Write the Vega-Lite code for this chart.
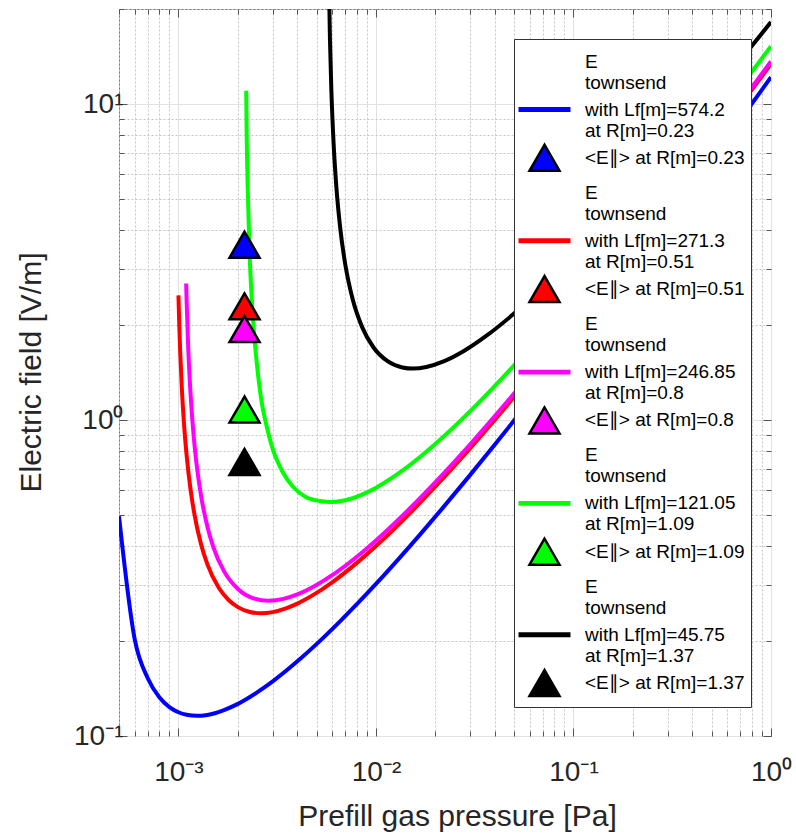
{
  "$schema": "https://vega.github.io/schema/vega-lite/v6.json",
  "width": 652,
  "height": 727,
  "autosize": {"type": "none"},
  "padding": {"left": 119, "top": 9, "right": 25, "bottom": 99},
  "background": "white",
  "config": {
    "font": "Liberation Sans",
    "view": {"stroke": "#7a7a7a", "strokeWidth": 1},
    "axis": {"labelColor": "#262626", "titleColor": "#262626", "tickColor": "#555555", "domain": false, "labelOverlap": false, "labelBound": false, "labelFlush": false, "titleFontWeight": "normal"}
  },
  "datasets": {
    "curves": [
      {"s": "L1", "p": 0.0005, "E": 0.496},
      {"s": "L1", "p": 0.0006, "E": 0.203},
      {"s": "L1", "p": 0.0007, "E": 0.152},
      {"s": "L1", "p": 0.0008, "E": 0.1327},
      {"s": "L1", "p": 0.0009, "E": 0.1235},
      {"s": "L1", "p": 0.001, "E": 0.1189},
      {"s": "L1", "p": 0.0011, "E": 0.1167},
      {"s": "L1", "p": 0.00124, "E": 0.1158},
      {"s": "L1", "p": 0.0014, "E": 0.1166},
      {"s": "L1", "p": 0.0017, "E": 0.1208},
      {"s": "L1", "p": 0.002, "E": 0.1264},
      {"s": "L1", "p": 0.0025, "E": 0.1374},
      {"s": "L1", "p": 0.003, "E": 0.1489},
      {"s": "L1", "p": 0.004, "E": 0.1723},
      {"s": "L1", "p": 0.005, "E": 0.1953},
      {"s": "L1", "p": 0.0065, "E": 0.2289},
      {"s": "L1", "p": 0.008, "E": 0.2613},
      {"s": "L1", "p": 0.01, "E": 0.303},
      {"s": "L1", "p": 0.013, "E": 0.3631},
      {"s": "L1", "p": 0.017, "E": 0.4396},
      {"s": "L1", "p": 0.022, "E": 0.5311},
      {"s": "L1", "p": 0.03, "E": 0.6706},
      {"s": "L1", "p": 0.04, "E": 0.8366},
      {"s": "L1", "p": 0.05, "E": 0.996},
      {"s": "L1", "p": 0.07, "E": 1.301},
      {"s": "L1", "p": 0.1, "E": 1.736},
      {"s": "L1", "p": 0.15, "E": 2.422},
      {"s": "L1", "p": 0.2, "E": 3.077},
      {"s": "L1", "p": 0.3, "E": 4.327},
      {"s": "L1", "p": 0.5, "E": 6.69},
      {"s": "L1", "p": 0.7, "E": 8.93},
      {"s": "L1", "p": 1.0, "E": 12.17},
      {"s": "L2", "p": 0.001, "E": 2.48},
      {"s": "L2", "p": 0.00101, "E": 1.981},
      {"s": "L2", "p": 0.00102, "E": 1.657},
      {"s": "L2", "p": 0.00104, "E": 1.263},
      {"s": "L2", "p": 0.00107, "E": 0.949},
      {"s": "L2", "p": 0.0011, "E": 0.773},
      {"s": "L2", "p": 0.00115, "E": 0.606},
      {"s": "L2", "p": 0.0012, "E": 0.51},
      {"s": "L2", "p": 0.0013, "E": 0.405},
      {"s": "L2", "p": 0.0014, "E": 0.35},
      {"s": "L2", "p": 0.0016, "E": 0.2945},
      {"s": "L2", "p": 0.0018, "E": 0.269},
      {"s": "L2", "p": 0.002, "E": 0.2558},
      {"s": "L2", "p": 0.0023, "E": 0.2469},
      {"s": "L2", "p": 0.00262, "E": 0.2446},
      {"s": "L2", "p": 0.003, "E": 0.2467},
      {"s": "L2", "p": 0.0035, "E": 0.2535},
      {"s": "L2", "p": 0.004, "E": 0.2625},
      {"s": "L2", "p": 0.005, "E": 0.2837},
      {"s": "L2", "p": 0.006, "E": 0.3065},
      {"s": "L2", "p": 0.008, "E": 0.3532},
      {"s": "L2", "p": 0.01, "E": 0.3993},
      {"s": "L2", "p": 0.015, "E": 0.5106},
      {"s": "L2", "p": 0.02, "E": 0.6162},
      {"s": "L2", "p": 0.03, "E": 0.8153},
      {"s": "L2", "p": 0.05, "E": 1.183},
      {"s": "L2", "p": 0.07, "E": 1.526},
      {"s": "L2", "p": 0.1, "E": 2.013},
      {"s": "L2", "p": 0.15, "E": 2.777},
      {"s": "L2", "p": 0.2, "E": 3.503},
      {"s": "L2", "p": 0.3, "E": 4.883},
      {"s": "L2", "p": 0.5, "E": 7.474},
      {"s": "L2", "p": 0.7, "E": 9.929},
      {"s": "L2", "p": 1.0, "E": 13.4},
      {"s": "L3", "p": 0.001094, "E": 2.704},
      {"s": "L3", "p": 0.0011, "E": 2.375},
      {"s": "L3", "p": 0.00112, "E": 1.708},
      {"s": "L3", "p": 0.00115, "E": 1.226},
      {"s": "L3", "p": 0.0012, "E": 0.861},
      {"s": "L3", "p": 0.00125, "E": 0.683},
      {"s": "L3", "p": 0.0013, "E": 0.578},
      {"s": "L3", "p": 0.0014, "E": 0.461},
      {"s": "L3", "p": 0.0015, "E": 0.397},
      {"s": "L3", "p": 0.0017, "E": 0.3325},
      {"s": "L3", "p": 0.002, "E": 0.292},
      {"s": "L3", "p": 0.0024, "E": 0.2728},
      {"s": "L3", "p": 0.00286, "E": 0.268},
      {"s": "L3", "p": 0.0034, "E": 0.2716},
      {"s": "L3", "p": 0.004, "E": 0.2806},
      {"s": "L3", "p": 0.005, "E": 0.3005},
      {"s": "L3", "p": 0.006, "E": 0.3228},
      {"s": "L3", "p": 0.008, "E": 0.3693},
      {"s": "L3", "p": 0.01, "E": 0.4159},
      {"s": "L3", "p": 0.015, "E": 0.5286},
      {"s": "L3", "p": 0.02, "E": 0.636},
      {"s": "L3", "p": 0.03, "E": 0.8385},
      {"s": "L3", "p": 0.05, "E": 1.2126},
      {"s": "L3", "p": 0.07, "E": 1.5614},
      {"s": "L3", "p": 0.1, "E": 2.056},
      {"s": "L3", "p": 0.15, "E": 2.832},
      {"s": "L3", "p": 0.2, "E": 3.569},
      {"s": "L3", "p": 0.3, "E": 4.969},
      {"s": "L3", "p": 0.5, "E": 7.595},
      {"s": "L3", "p": 0.7, "E": 10.08},
      {"s": "L3", "p": 1.0, "E": 13.65},
      {"s": "L4", "p": 0.002203, "E": 11.03},
      {"s": "L4", "p": 0.002215, "E": 8.0},
      {"s": "L4", "p": 0.002245, "E": 5.25},
      {"s": "L4", "p": 0.00229, "E": 3.4},
      {"s": "L4", "p": 0.002335, "E": 2.6},
      {"s": "L4", "p": 0.00242, "E": 1.85},
      {"s": "L4", "p": 0.00252, "E": 1.42},
      {"s": "L4", "p": 0.00265, "E": 1.12},
      {"s": "L4", "p": 0.00278, "E": 0.97},
      {"s": "L4", "p": 0.003, "E": 0.81},
      {"s": "L4", "p": 0.00337, "E": 0.685},
      {"s": "L4", "p": 0.0038, "E": 0.615},
      {"s": "L4", "p": 0.00443, "E": 0.57},
      {"s": "L4", "p": 0.0052, "E": 0.5545},
      {"s": "L4", "p": 0.0059, "E": 0.55},
      {"s": "L4", "p": 0.007, "E": 0.5575},
      {"s": "L4", "p": 0.0085, "E": 0.581},
      {"s": "L4", "p": 0.01, "E": 0.611},
      {"s": "L4", "p": 0.013, "E": 0.678},
      {"s": "L4", "p": 0.017, "E": 0.771},
      {"s": "L4", "p": 0.022, "E": 0.887},
      {"s": "L4", "p": 0.03, "E": 1.067},
      {"s": "L4", "p": 0.04, "E": 1.283},
      {"s": "L4", "p": 0.05, "E": 1.4895},
      {"s": "L4", "p": 0.07, "E": 1.884},
      {"s": "L4", "p": 0.1, "E": 2.441},
      {"s": "L4", "p": 0.15, "E": 3.311},
      {"s": "L4", "p": 0.2, "E": 4.134},
      {"s": "L4", "p": 0.3, "E": 5.691},
      {"s": "L4", "p": 0.5, "E": 8.595},
      {"s": "L4", "p": 0.7, "E": 11.33},
      {"s": "L4", "p": 1.0, "E": 15.25},
      {"s": "L5", "p": 0.00578, "E": 24.0},
      {"s": "L5", "p": 0.00585, "E": 15.93},
      {"s": "L5", "p": 0.00595, "E": 10.9},
      {"s": "L5", "p": 0.0061, "E": 7.54},
      {"s": "L5", "p": 0.0063, "E": 5.48},
      {"s": "L5", "p": 0.0066, "E": 4.024},
      {"s": "L5", "p": 0.007, "E": 3.096},
      {"s": "L5", "p": 0.0076, "E": 2.429},
      {"s": "L5", "p": 0.0085, "E": 1.972},
      {"s": "L5", "p": 0.0097, "E": 1.7},
      {"s": "L5", "p": 0.0115, "E": 1.533},
      {"s": "L5", "p": 0.0136, "E": 1.467},
      {"s": "L5", "p": 0.0154, "E": 1.455},
      {"s": "L5", "p": 0.018, "E": 1.472},
      {"s": "L5", "p": 0.022, "E": 1.533},
      {"s": "L5", "p": 0.028, "E": 1.657},
      {"s": "L5", "p": 0.036, "E": 1.842},
      {"s": "L5", "p": 0.05, "E": 2.173},
      {"s": "L5", "p": 0.07, "E": 2.635},
      {"s": "L5", "p": 0.1, "E": 3.297},
      {"s": "L5", "p": 0.15, "E": 4.334},
      {"s": "L5", "p": 0.2, "E": 5.313},
      {"s": "L5", "p": 0.3, "E": 7.156},
      {"s": "L5", "p": 0.5, "E": 10.567},
      {"s": "L5", "p": 0.7, "E": 13.76},
      {"s": "L5", "p": 1.0, "E": 18.2}
    ],
    "tri": [
      {"s": "T1", "p": 0.00216, "E": 3.59},
      {"s": "T2", "p": 0.00216, "E": 2.29},
      {"s": "T3", "p": 0.00216, "E": 1.94},
      {"s": "T4", "p": 0.00216, "E": 1.08},
      {"s": "T5", "p": 0.00216, "E": 0.737}
    ]
  },
  "layer": [
    {
      "data": {"name": "curves"},
      "mark": {"type": "line", "strokeWidth": 4, "clip": true, "interpolate": "monotone"},
      "encoding": {
        "x": {
          "field": "p", "type": "quantitative",
          "scale": {"type": "log", "domain": [0.0005, 1]},
          "axis": {
            "orient": "bottom",
            "values": [0.0005, 0.0006, 0.0007, 0.0008, 0.0009, 0.001, 0.002, 0.003, 0.004, 0.005, 0.006, 0.007, 0.008, 0.009, 0.01, 0.02, 0.03, 0.04, 0.05, 0.06, 0.07, 0.08, 0.09, 0.1, 0.2, 0.3, 0.4, 0.5, 0.6, 0.7, 0.8, 0.9, 1],
            "labelExpr": "abs(log(datum.value)/LN10 - round(log(datum.value)/LN10)) < 1e-6 ? ({'-3': '10⁻³', '-2': '10⁻²', '-1': '10⁻¹', '0': '10⁰'})['' + round(log(datum.value)/LN10)] : ''",
            "labelFontSize": 28,
            "labelPadding": 30,
            "grid": true,
            "gridColor": {"condition": {"test": "abs(log(datum.value)/LN10 - round(log(datum.value)/LN10)) < 1e-6", "value": "#e2e2e2"}, "value": "#c6c6c6"},
            "gridDash": {"condition": {"test": "abs(log(datum.value)/LN10 - round(log(datum.value)/LN10)) < 1e-6", "value": []}, "value": [2, 2]},
            "tickSize": {"condition": {"test": "abs(log(datum.value)/LN10 - round(log(datum.value)/LN10)) < 1e-6", "value": -8}, "value": -5},
            "title": "Prefill gas pressure [Pa]",
            "titleFontSize": 30,
            "titleX": 338,
            "titleY": 80,
            "titleBaseline": "middle",
            "titleAlign": "center"
          }
        },
        "y": {
          "field": "E", "type": "quantitative",
          "scale": {"type": "log", "domain": [0.1, 20]},
          "axis": {
            "orient": "left",
            "values": [0.1, 0.2, 0.3, 0.4, 0.5, 0.6, 0.7, 0.8, 0.9, 1, 2, 3, 4, 5, 6, 7, 8, 9, 10, 20],
            "labelExpr": "abs(log(datum.value)/LN10 - round(log(datum.value)/LN10)) < 1e-6 ? ({'-1': '10⁻¹', '0': '10⁰', '1': '10¹'})['' + round(log(datum.value)/LN10)] : ''",
            "labelFontSize": 28,
            "labelPadding": 4,
            "grid": true,
            "gridColor": {"condition": {"test": "abs(log(datum.value)/LN10 - round(log(datum.value)/LN10)) < 1e-6", "value": "#e2e2e2"}, "value": "#c6c6c6"},
            "gridDash": {"condition": {"test": "abs(log(datum.value)/LN10 - round(log(datum.value)/LN10)) < 1e-6", "value": []}, "value": [2, 2]},
            "tickSize": {"condition": {"test": "abs(log(datum.value)/LN10 - round(log(datum.value)/LN10)) < 1e-6", "value": -8}, "value": -5},
            "title": "Electric field [V/m]",
            "titleFontSize": 30,
            "titleX": -88,
            "titleY": 363,
            "titleBaseline": "middle",
            "titleAlign": "center"
          }
        },
        "color": {
          "field": "s", "type": "nominal",
          "scale": {
            "domain": ["L1", "L2", "L3", "L4", "L5", "T1", "T2", "T3", "T4", "T5"],
            "range": ["#0000ff", "#ff0000", "#ff00ff", "#00ff00", "#000000", "#0000ff", "#ff0000", "#ff00ff", "#00ff00", "#000000"]
          },
          "legend": null
        }
      }
    },
    {
      "data": {"name": "tri"},
      "mark": {"type": "point", "filled": true, "size": 900, "stroke": "#000000", "strokeWidth": 2.5, "opacity": 1},
      "encoding": {
        "x": {
          "field": "p", "type": "quantitative",
          "scale": {"type": "log", "domain": [0.0005, 1]},
          "axis": {
            "orient": "top", "labels": false, "grid": false, "title": null,
            "values": [0.0005, 0.0006, 0.0007, 0.0008, 0.0009, 0.001, 0.002, 0.003, 0.004, 0.005, 0.006, 0.007, 0.008, 0.009, 0.01, 0.02, 0.03, 0.04, 0.05, 0.06, 0.07, 0.08, 0.09, 0.1, 0.2, 0.3, 0.4, 0.5, 0.6, 0.7, 0.8, 0.9, 1],
            "tickSize": {"condition": {"test": "abs(log(datum.value)/LN10 - round(log(datum.value)/LN10)) < 1e-6", "value": -8}, "value": -5}
          }
        },
        "y": {
          "field": "E", "type": "quantitative",
          "scale": {"type": "log", "domain": [0.1, 20]},
          "axis": {
            "orient": "right", "labels": false, "grid": false, "title": null,
            "values": [0.1, 0.2, 0.3, 0.4, 0.5, 0.6, 0.7, 0.8, 0.9, 1, 2, 3, 4, 5, 6, 7, 8, 9, 10, 20],
            "tickSize": {"condition": {"test": "abs(log(datum.value)/LN10 - round(log(datum.value)/LN10)) < 1e-6", "value": -8}, "value": -5}
          }
        },
        "color": {"field": "s", "type": "nominal", "legend": null},
        "shape": {
          "field": "s", "type": "nominal",
          "scale": {
            "domain": ["H1", "L1", "T1", "H2", "L2", "T2", "H3", "L3", "T3", "H4", "L4", "T4", "H5", "L5", "T5"],
            "range": [
              "M-1.65,-0.08L1.65,-0.08L1.65,0.08L-1.65,0.08Z", "M-1.65,-0.08L1.65,-0.08L1.65,0.08L-1.65,0.08Z", "triangle-up",
              "M-1.65,-0.08L1.65,-0.08L1.65,0.08L-1.65,0.08Z", "M-1.65,-0.08L1.65,-0.08L1.65,0.08L-1.65,0.08Z", "triangle-up",
              "M-1.65,-0.08L1.65,-0.08L1.65,0.08L-1.65,0.08Z", "M-1.65,-0.08L1.65,-0.08L1.65,0.08L-1.65,0.08Z", "triangle-up",
              "M-1.65,-0.08L1.65,-0.08L1.65,0.08L-1.65,0.08Z", "M-1.65,-0.08L1.65,-0.08L1.65,0.08L-1.65,0.08Z", "triangle-up",
              "M-1.65,-0.08L1.65,-0.08L1.65,0.08L-1.65,0.08Z", "M-1.65,-0.08L1.65,-0.08L1.65,0.08L-1.65,0.08Z", "triangle-up"
            ]
          },
          "legend": {
            "orient": "none",
            "legendX": 395,
            "legendY": 30,
            "title": null,
            "fillColor": "white",
            "strokeColor": "#333333",
            "padding": 6,
            "symbolSize": 900,
            "symbolStrokeWidth": 2.5,
            "symbolOffset": 8,
            "symbolOpacity": 1,
            "symbolFillColor": {"expr": "indexof(datum.value, 'H') === 0 ? 'transparent' : scale('color', datum.value)"},
            "symbolStrokeColor": {"expr": "indexof(datum.value, 'T') === 0 ? '#000000' : (indexof(datum.value, 'L') === 0 ? scale('color', datum.value) : 'transparent')"},
            "labelFontSize": 19,
            "labelColor": "#000000",
            "labelOffset": 24,
            "labelLimit": 400,
            "rowPadding": -1.7,
            "labelExpr": "({'H1': ['E', '\u00a0\u00a0townsend'], 'L1': ['with Lf[m]=574.2', 'at R[m]=0.23'], 'T1': '<E∥> at R[m]=0.23', 'H2': ['E', '\u00a0\u00a0townsend'], 'L2': ['with Lf[m]=271.3', 'at R[m]=0.51'], 'T2': '<E∥> at R[m]=0.51', 'H3': ['E', '\u00a0\u00a0townsend'], 'L3': ['with Lf[m]=246.85', 'at R[m]=0.8'], 'T3': '<E∥> at R[m]=0.8', 'H4': ['E', '\u00a0\u00a0townsend'], 'L4': ['with Lf[m]=121.05', 'at R[m]=1.09'], 'T4': '<E∥> at R[m]=1.09', 'H5': ['E', '\u00a0\u00a0townsend'], 'L5': ['with Lf[m]=45.75', 'at R[m]=1.37'], 'T5': '<E∥> at R[m]=1.37'})[datum.value]"
          }
        }
      }
    }
  ],
  "resolve": {"axis": {"x": "independent", "y": "independent"}}
}
